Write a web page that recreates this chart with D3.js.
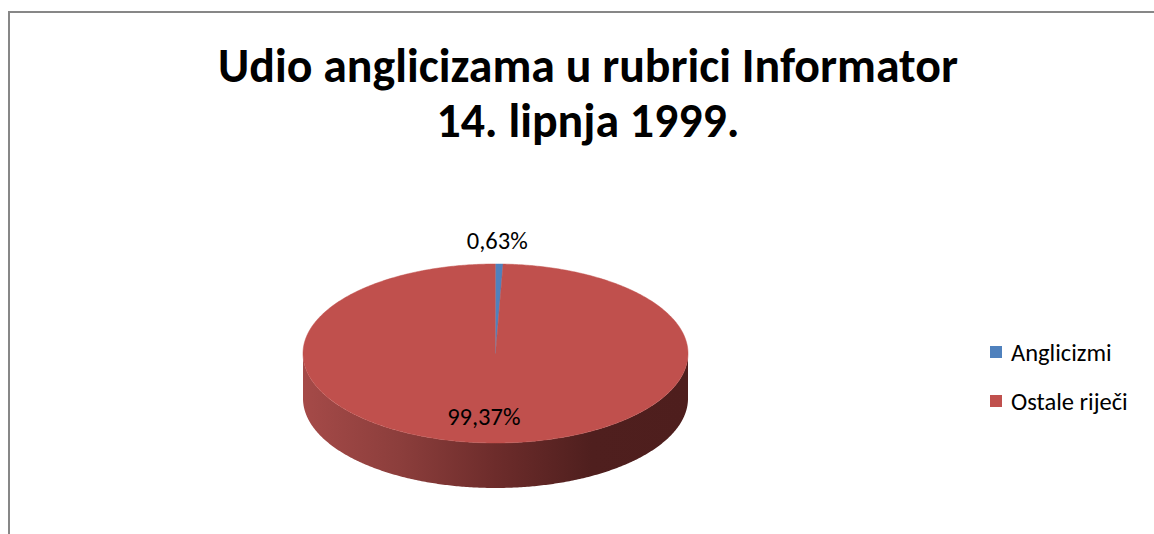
<!DOCTYPE html>
<html>
<head>
<meta charset="utf-8">
<script src="https://cdn.jsdelivr.net/npm/d3@7"></script>
<style>
  body { margin: 0; background: #fff; }
  text { font-family: Carlito, Calibri, Lato, "Open Sans", sans-serif; }
</style>
</head>
<body>
<div id="chart"></div>
<script>
// data
let categories = ["Anglicizmi", "Ostale riječi"];
let values = [0.63, 99.37];
let valueLabels = ["0,63%", "99,37%"];
let titleLines = ["Udio anglicizama u rubrici Informator", "14. lipnja 1999."];

let topColors = ["#4f81bd", "#c0504d"];

let svgWidth = 1154;
let svgHeight = 534;
let labelSize = 24.5;

// pie geometry (3d ellipse)
let cx = 495.5;
let cy = 353.5;
let rx = 192.5;
let ry = 89.5;
let depth = 45;

let svg = d3.select("#chart")
  .append("svg")
  .attr("width", svgWidth)
  .attr("height", svgHeight);

let defs = svg.append("defs");

// side shading, light on the left, dark on the right
let grad = defs.append("linearGradient")
  .attr("id", "sideRed")
  .attr("gradientUnits", "userSpaceOnUse")
  .attr("x1", cx - rx).attr("x2", cx + rx)
  .attr("y1", 0).attr("y2", 0);
[[0, "#a54a48"], [0.25, "#8c3e3c"], [0.5, "#6d2c2b"], [0.75, "#4f1f1e"], [1, "#4e1e1d"]]
  .forEach(s => grad.append("stop").attr("offset", s[0]).attr("stop-color", s[1]));

// chart area border
svg.append("rect")
  .attr("x", 9)
  .attr("y", 12)
  .attr("width", svgWidth + 20)
  .attr("height", svgHeight + 20)
  .attr("fill", "none")
  .attr("stroke", "#878787")
  .attr("stroke-width", 2);

// title, sized to fit the width of the original
let title = svg.append("g");
let line1 = title.append("text")
  .attr("x", 588).attr("y", 82)
  .attr("text-anchor", "middle")
  .attr("font-weight", "bold")
  .attr("font-size", 44)
  .attr("fill", "#000")
  .text(titleLines[0]);
let w1 = line1.node().getComputedTextLength();
let titleSize = 44 * 740 / w1;
line1.attr("font-size", titleSize);

title.append("text")
  .attr("x", 588).attr("y", 137)
  .attr("text-anchor", "middle")
  .attr("font-weight", "bold")
  .attr("font-size", titleSize)
  .attr("fill", "#000")
  .text(titleLines[1]);

let pie = d3.pie()
  .sort(null)
  .startAngle(0)
  .endAngle(2 * Math.PI);

let arcs = pie(values);

// angle measured clockwise from 12 o'clock
function pt(a, k, dy) {
  return [cx + rx * k * Math.sin(a), cy - ry * k * Math.cos(a) + (dy || 0)];
}

function arcPoints(a0, a1, dy) {
  let n = Math.max(2, Math.ceil(Math.abs(a1 - a0) / 0.01));
  return d3.range(n + 1).map(i => pt(a0 + (a1 - a0) * i / n, 1, dy));
}

// side walls: only the front half (pi/2 .. 3pi/2) is visible
let sides = svg.append("g").attr("class", "sides");
arcs.forEach((d, i) => {
  let a0 = Math.max(d.startAngle, Math.PI / 2);
  let a1 = Math.min(d.endAngle, 3 * Math.PI / 2);
  if (a1 <= a0) return;
  let p = d3.path();
  let top = arcPoints(a0, a1, 0);
  let bottom = arcPoints(a1, a0, depth);
  top.concat(bottom).forEach((q, j) => j === 0 ? p.moveTo(q[0], q[1]) : p.lineTo(q[0], q[1]));
  p.closePath();
  sides.append("path")
    .attr("d", p.toString())
    .attr("fill", i === 1 ? "url(#sideRed)" : d3.color(topColors[i]).darker(1));
});

// top faces
let tops = svg.append("g").attr("class", "tops");
arcs.forEach((d, i) => {
  let p = d3.path();
  p.moveTo(cx, cy);
  arcPoints(d.startAngle, d.endAngle, 0).forEach(q => p.lineTo(q[0], q[1]));
  p.closePath();
  tops.append("path")
    .attr("d", p.toString())
    .attr("fill", topColors[i])
    .attr("stroke", topColors[i])
    .attr("stroke-width", 0.5);
});

// faint radial edge of the small slice
let edge = pt(arcs[0].startAngle, 1, 0);
tops.append("line")
  .attr("x1", cx).attr("y1", cy)
  .attr("x2", edge[0]).attr("y2", edge[1])
  .attr("stroke", "#8a7f9a")
  .attr("stroke-width", 1)
  .attr("opacity", 0.6);

// data labels: small slice outside, big slice inside
let labelK = [1.26, 0.7];
let labelDx = [-3, -9];
svg.append("g")
  .selectAll("text")
  .data(arcs)
  .join("text")
  .attr("x", (d, i) => pt((d.startAngle + d.endAngle) / 2, labelK[i], 0)[0] + labelDx[i])
  .attr("y", (d, i) => pt((d.startAngle + d.endAngle) / 2, labelK[i], 0)[1])
  .attr("dy", "0.35em")
  .attr("text-anchor", "middle")
  .attr("font-size", labelSize)
  .attr("fill", "#000")
  .text((d, i) => valueLabels[i]);

// legend
let legend = svg.append("g")
  .attr("transform", "translate(990, 346)");

let items = legend.selectAll("g")
  .data(categories)
  .join("g")
  .attr("transform", (d, i) => "translate(0," + (i * 49) + ")");

items.append("rect")
  .attr("width", 12)
  .attr("height", 12)
  .attr("fill", (d, i) => topColors[i]);

items.append("text")
  .attr("x", 21)
  .attr("y", 6)
  .attr("dy", "0.35em")
  .attr("font-size", labelSize)
  .attr("fill", "#000")
  .text(d => d);
</script>
</body>
</html>
